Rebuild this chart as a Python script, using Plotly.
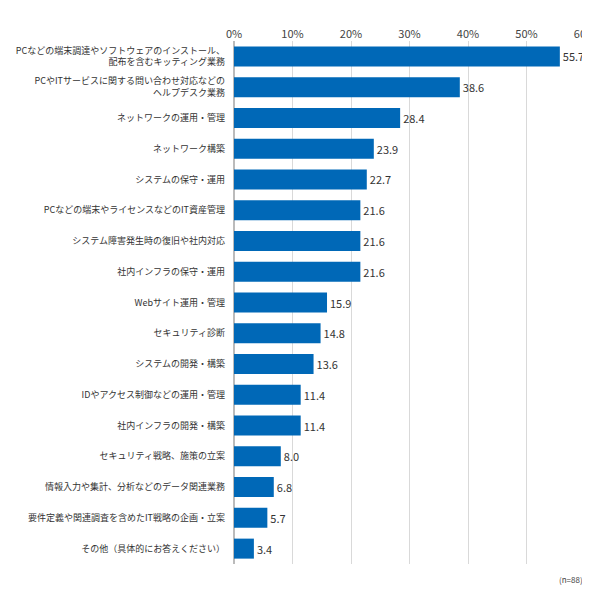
import plotly.graph_objects as go

categories = [
    "PCなどの端末調達やソフトウェアのインストール、<br>配布を含むキッティング業務",
    "PCやITサービスに関する問い合わせ対応などの<br>ヘルプデスク業務",
    "ネットワークの運用・管理",
    "ネットワーク構築",
    "システムの保守・運用",
    "PCなどの端末やライセンスなどのIT資産管理",
    "システム障害発生時の復旧や社内対応",
    "社内インフラの保守・運用",
    "Webサイト運用・管理",
    "セキュリティ診断",
    "システムの開発・構築",
    "IDやアクセス制御などの運用・管理",
    "社内インフラの開発・構築",
    "セキュリティ戦略、施策の立案",
    "情報入力や集計、分析などのデータ関連業務",
    "要件定義や関連調査を含めたIT戦略の企画・立案",
    "その他（具体的にお答えください）",
]
values = [55.7, 38.6, 28.4, 23.9, 22.7, 21.6, 21.6, 21.6, 15.9, 14.8, 13.6, 11.4, 11.4, 8.0, 6.8, 5.7, 3.4]
tick_vals = [0, 10, 20, 30, 40, 50, 60]
tick_text = ["0%", "10%", "20%", "30%", "40%", "50%", "60%"]

font = "Noto Sans CJK JP"
fig = go.Figure(go.Bar(
    y=categories, x=values, orientation="h",
    marker=dict(color="#0068b7", line=dict(width=0)),
    text=[f"{v:.1f}" for v in values], textposition="outside",
    textfont=dict(size=11, color="#333333", family=font), cliponaxis=False,
))
fig.update_layout(
    width=590, height=590, plot_bgcolor="white", paper_bgcolor="white",
    margin=dict(l=226, r=13, t=33, b=34), bargap=0.35, showlegend=False,
    font=dict(family=font, size=9, color="#333333"),
    xaxis=dict(side="top", range=[0, 60], tickvals=tick_vals, ticktext=tick_text,
               showgrid=True, gridcolor="#d9d9d9", zeroline=True, zerolinecolor="#bbbbbb",
               tickfont=dict(size=11, color="#444444"), automargin=False, fixedrange=True),
    yaxis=dict(autorange="reversed", showgrid=False, ticks="", ticklabelstandoff=8,
               automargin=False, tickfont=dict(size=9, color="#333333")),
    annotations=[dict(text="(n=88)", x=1, xref="paper", y=-0.015, yref="paper",
                      xanchor="right", yanchor="top", showarrow=False,
                      font=dict(size=8, color="#444444"))],
)
fig.write_html("out.html")
